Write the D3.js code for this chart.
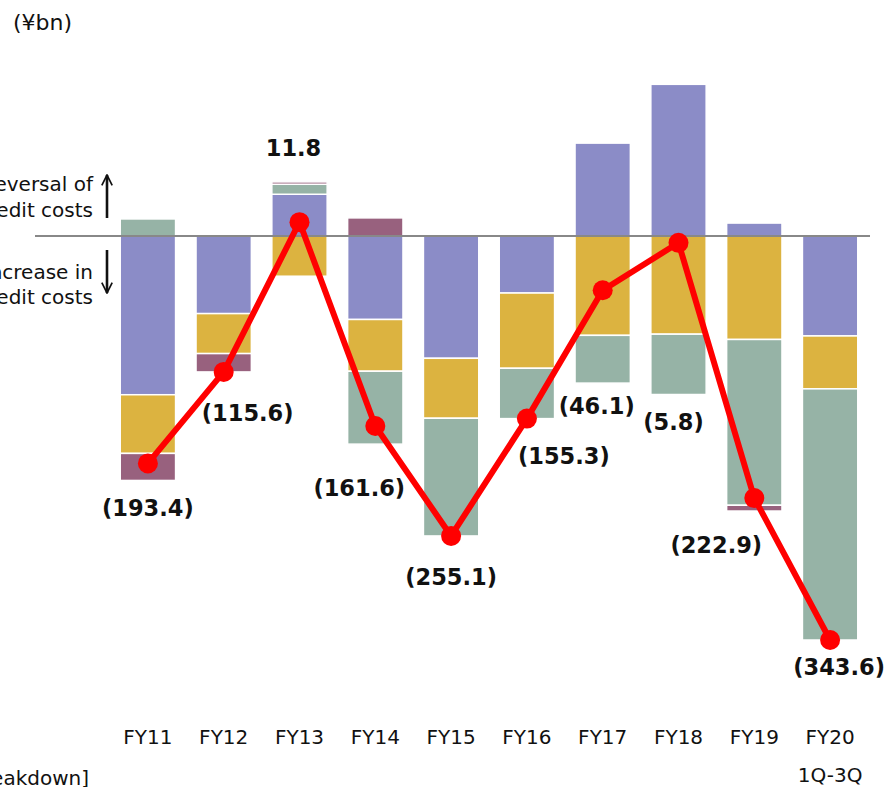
<!DOCTYPE html>
<html lang="en">
<head>
    <meta charset="UTF-8">
    <title>Credit Costs</title>
    <style>
        body {
            margin: 0;
            background: #fff;
            font-family: "DejaVu Sans", Verdana, sans-serif;
        }
        .lbl {
            font-weight: bold;
            font-size: 22.5px;
            fill: #111;
        }
    </style>
</head>
<body>
<script src="https://d3js.org/d3.v7.min.js"></script>
<script>
    // Data (¥bn)
    const years = ["FY11", "FY12", "FY13", "FY14", "FY15", "FY16", "FY17", "FY18", "FY19", "FY20"];
    const segA = [-135, -66, 35.5, -71, -104, -48.5, 79, 129, 11, -85];
    const segB = [-49.9, -34, -34.2, -44, -51, -64, -84.5, -83.5, -88, -45];
    const segC = [14.5, 0, 8.5, -62, -100.1, -42.8, -40.6, -51.3, -141, -213.6];
    const segD = [-23, -15.6, 2, 15.4, 0, 0, 0, 0, -4.9, 0];
    const totals = [-193.4, -115.6, 11.8, -161.6, -255.1, -155.3, -46.1, -5.8, -222.9, -343.6];
    const totalLabels = ["(193.4)", "(115.6)", "11.8", "(161.6)", "(255.1)", "(155.3)", "(46.1)", "(5.8)", "(222.9)", "(343.6)"];

    // label offsets from the dots (layout only)
    const labelDx = [0, 24, -6, -16, 0, 37, -6, -5, -38, 9];
    const labelDy = [45, 41, -74, 62, 41, 37, 116, 179, 47, 27];

    const colors = ["#8b8cc7", "#dcb340", "#96b3a6", "#98617e"];
    const keys = ["a", "b", "c", "d"];

    const width = 892, height = 787;

    const rows = years.map((y, i) => ({year: y, a: segA[i], b: segB[i], c: segC[i], d: segD[i]}));

    const svg = d3.select("body").append("svg")
        .attr("width", width)
        .attr("height", height);

    const x = d3.scaleBand()
        .domain(years)
        .range([110, 868])
        .paddingInner(0.27)
        .paddingOuter(0.135);

    const y = d3.scaleLinear()
        .domain([0, -343.6])
        .range([236, 640]);

    const stack = d3.stack()
        .keys(keys)
        .offset(d3.stackOffsetDiverging);
    const series = stack(rows);

    // bars
    svg.append("g")
        .selectAll("g")
        .data(series)
        .join("g")
        .attr("fill", (d, i) => colors[i])
        .selectAll("rect")
        .data(d => d.filter(p => p[1] - p[0] !== 0))
        .join("rect")
        .attr("x", d => x(d.data.year))
        .attr("width", x.bandwidth())
        .attr("y", d => y(Math.max(d[0], d[1])))
        .attr("height", d => Math.abs(y(d[0]) - y(d[1])))
        .attr("stroke", "#fff")
        .attr("stroke-width", 1.5);

    // zero line
    svg.append("line")
        .attr("x1", 35).attr("x2", 870)
        .attr("y1", y(0)).attr("y2", y(0))
        .attr("stroke", "#888")
        .attr("stroke-width", 2);

    // total line
    const line = d3.line()
        .x((d, i) => x(years[i]) + x.bandwidth() / 2)
        .y(d => y(d));

    svg.append("path")
        .datum(totals)
        .attr("d", line)
        .attr("fill", "none")
        .attr("stroke", "#ff0000")
        .attr("stroke-width", 6)
        .attr("stroke-linejoin", "round");

    svg.append("g")
        .selectAll("circle")
        .data(totals)
        .join("circle")
        .attr("cx", (d, i) => x(years[i]) + x.bandwidth() / 2)
        .attr("cy", d => y(d))
        .attr("r", 10)
        .attr("fill", "#ff0000");

    svg.append("g")
        .selectAll("text")
        .data(totals)
        .join("text")
        .attr("class", "lbl")
        .attr("x", (d, i) => x(years[i]) + x.bandwidth() / 2 + labelDx[i])
        .attr("y", (d, i) => y(d) + labelDy[i])
        .attr("text-anchor", "middle")
        .attr("dominant-baseline", "central")
        .text((d, i) => totalLabels[i]);

    // x axis labels
    const xAxis = d3.axisBottom(x).tickSize(0).tickPadding(0);
    const gx = svg.append("g")
        .attr("transform", "translate(0,730)")
        .call(xAxis);
    gx.select(".domain").remove();
    gx.selectAll("text")
        .attr("font-family", "'DejaVu Sans', sans-serif")
        .attr("font-size", 20)
        .attr("fill", "#111");

    svg.append("text")
        .attr("x", x("FY20") + x.bandwidth() / 2)
        .attr("y", 782)
        .attr("text-anchor", "middle")
        .attr("font-size", 20)
        .attr("fill", "#111")
        .text("1Q-3Q");

    // unit
    svg.append("text")
        .attr("x", 13).attr("y", 30)
        .attr("font-size", 22)
        .attr("fill", "#111")
        .text("(¥bn)");

    // side notes
    const note = svg.append("g").attr("font-size", 20).attr("fill", "#111").attr("text-anchor", "end");
    note.append("text").attr("x", 93).attr("y", 191).text("Reversal of");
    note.append("text").attr("x", 93).attr("y", 217).text("credit costs");
    note.append("text").attr("x", 93).attr("y", 279).text("Increase in");
    note.append("text").attr("x", 93).attr("y", 304).text("credit costs");

    svg.append("defs").append("marker")
        .attr("id", "arr")
        .attr("viewBox", "0 0 10 10")
        .attr("refX", 9).attr("refY", 5)
        .attr("markerWidth", 5).attr("markerHeight", 5)
        .attr("markerUnits", "strokeWidth")
        .attr("orient", "auto")
        .append("path")
        .attr("d", "M1,1 L9,5 L1,9")
        .attr("fill", "none")
        .attr("stroke", "#111")
        .attr("stroke-width", 1.3);

    svg.append("line")
        .attr("x1", 107).attr("x2", 107)
        .attr("y1", 218).attr("y2", 175)
        .attr("stroke", "#111").attr("stroke-width", 2.6)
        .attr("marker-end", "url(#arr)");
    svg.append("line")
        .attr("x1", 107).attr("x2", 107)
        .attr("y1", 250).attr("y2", 293)
        .attr("stroke", "#111").attr("stroke-width", 2.6)
        .attr("marker-end", "url(#arr)");

    svg.append("text")
        .attr("x", 89).attr("y", 785)
        .attr("text-anchor", "end")
        .attr("font-size", 20)
        .attr("fill", "#111")
        .text("[Breakdown]");
</script>
</body>
</html>
